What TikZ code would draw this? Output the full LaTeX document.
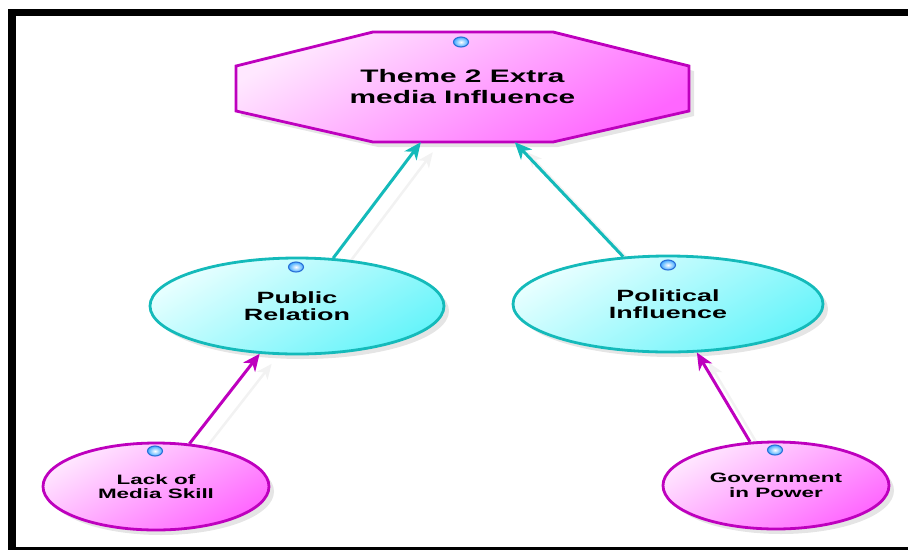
\documentclass[tikz,border=0pt]{standalone}
\usepackage{fontspec}
\newfontfamily\lbl[FakeStretch=1.65]{Liberation Sans}
\usetikzlibrary{shapes.geometric,arrows.meta,shadows}
\pgfdeclarelayer{background}
\pgfsetlayers{background,main}
\definecolor{magB}{HTML}{BE00BE}
\definecolor{pinkL}{HTML}{FFE8FF}
\definecolor{pinkD}{HTML}{FF66FF}
\definecolor{cyanB}{HTML}{14BABA}
\definecolor{cyanL}{HTML}{E8FFFF}
\definecolor{cyanD}{HTML}{66F4FA}
\definecolor{dotB}{HTML}{2A6FD6}
\definecolor{dotL}{HTML}{3FA9FF}
\begin{document}
\begin{tikzpicture}[x=1pt,y=-1pt,
  nodeshadow/.style={drop shadow={shadow xshift=5pt,shadow yshift=-5pt,fill=black,opacity=0.10}},
  pinknode/.style={ellipse, draw=magB, line width=2.8pt, top color=pinkL, bottom color=pinkD, shading angle=30,
    nodeshadow, inner sep=0pt, align=center, font=\lbl\bfseries\fontsize{13.6}{14.5}\selectfont},
  cyannode/.style={ellipse, draw=cyanB, line width=2.8pt, top color=cyanL, bottom color=cyanD, shading angle=30,
    nodeshadow, inner sep=0pt, align=center, font=\lbl\bfseries\fontsize{16.3}{17}\selectfont},
  octo/.style={draw=magB, line width=2.8pt, top color=pinkL, bottom color=pinkD, shading angle=30, nodeshadow},
  dot/.style={ellipse, draw=dotB, line width=1.1pt, inner color=white, outer color=dotL,
    minimum width=15pt, minimum height=10pt, inner sep=0pt},
  conn/.style={line width=3pt, -{Stealth[length=17pt,width=15pt,inset=5pt]}},
  connshadow/.style={line width=2.5pt, draw=black!5, fill=black!5, -{Stealth[length=15pt,width=13pt,inset=4pt]},
    transform canvas={shift={(12pt,-10pt)}}}
]
\useasboundingbox (0,0) rectangle (908,550);
% frame
\fill[black] (8,8.5) rectangle (908,16);
\fill[black] (8,8.5) rectangle (16,550);
\fill[black] (8,547) rectangle (908,550);
% octagon
\path[octo] (373,32) -- (553,32) -- (689,66) -- (689,111) -- (553,142) -- (373,142) -- (236,111) -- (236,66) -- cycle;
\node[minimum width=453pt, minimum height=110pt, inner sep=0pt, align=center,
  font=\lbl\bfseries\fontsize{18.1}{21}\selectfont] (theme) at (462.5,87) {Theme 2 Extra\\media Influence};
% ellipses
\node[cyannode, minimum width=294pt, minimum height=96pt] (pr) at (297,306) {Public\\Relation};
\node[cyannode, minimum width=310pt, minimum height=96pt] (pi) at (668,304) {Political\\Influence};
\node[pinknode, minimum width=226pt, minimum height=87pt] (lm) at (156,486.5) {Lack of\\Media Skill};
\node[pinknode, minimum width=226pt, minimum height=87pt] (gp) at (776,485.5) {Government\\in Power};
% dots
\node[dot] (d0) at (461,42) {};
\node[dot] (d1) at (296,267) {};
\node[dot] (d2) at (668,265) {};
\node[dot] (d3) at (155,451) {};
\node[dot] (d4) at (775,450) {};
% connector shadows, behind everything
\begin{pgfonlayer}{background}
\draw[connshadow] (pr) -- (theme);
\draw[connshadow] (pi) -- (theme);
\draw[connshadow] (lm) -- (pr);
\draw[connshadow] (gp) -- (pi);
\end{pgfonlayer}
% connectors
\draw[conn, draw=cyanB, fill=cyanB] (pr) -- (theme);
\draw[conn, draw=cyanB, fill=cyanB] (pi) -- (theme);
\draw[conn, draw=magB, fill=magB] (lm) -- (pr);
\draw[conn, draw=magB, fill=magB] (gp) -- (pi);
\end{tikzpicture}
\end{document}
